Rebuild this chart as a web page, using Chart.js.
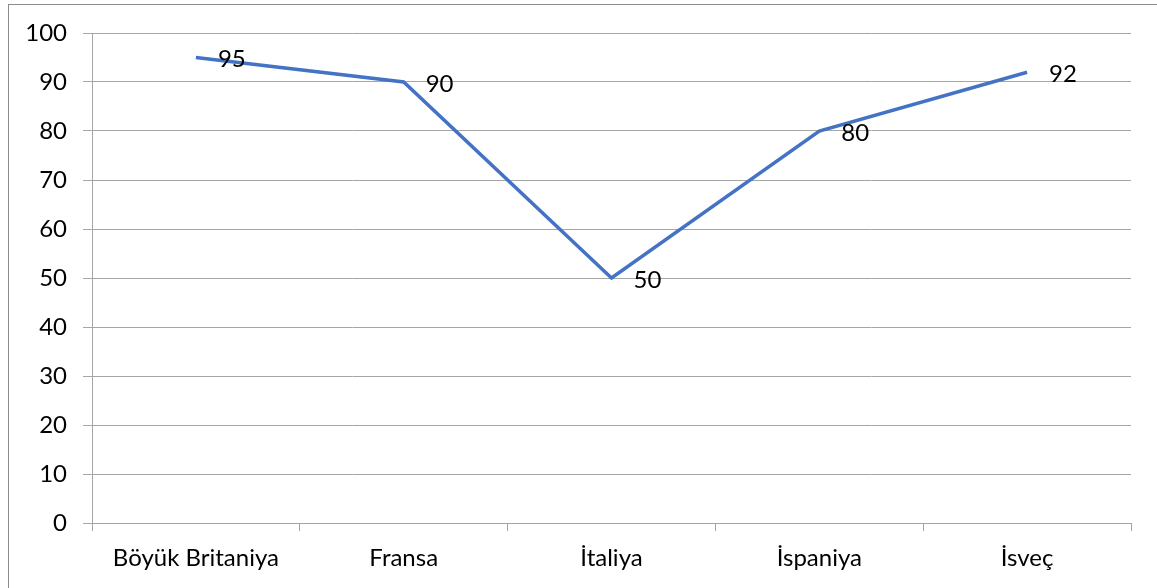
<!DOCTYPE html>
<html>
<head>
<meta charset="utf-8">
<script src="https://cdn.jsdelivr.net/npm/chart.js@4/dist/chart.umd.min.js"></script>
<style>
  html, body { margin: 0; padding: 0; background: #ffffff; }
  #wrap { position: relative; width: 1157px; height: 588px; overflow: hidden; }
  #frame { position: absolute; left: 8px; top: 4px; width: 1200px; height: 650px;
           border-left: 1px solid #8c8c8c; border-top: 1px solid #8c8c8c; box-sizing: border-box; }
  canvas { position: absolute; left: 0; top: 0; }
</style>
</head>
<body>
<div id="wrap">
  <div id="frame"></div>
  <canvas id="chart" width="1157" height="588"></canvas>
</div>
<script>
// Countries along the category axis
const categories = ['Böyük Britaniya', 'Fransa', 'İtaliya', 'İspaniya', 'İsveç'];
// Series values
const values = [95, 90, 50, 80, 92];
// Value axis range and step
const yMin = 0;
const yMax = 100;
const yStep = 10;

const FONT = 'Lato, "Open Sans", sans-serif';
const GRID = '#a6a6a6';

// Writes each value just to the right of its point
const valueLabels = {
  id: 'valueLabels',
  afterDatasetsDraw(chart) {
    const ctx = chart.ctx;
    const meta = chart.getDatasetMeta(0);
    ctx.save();
    ctx.font = '24px ' + FONT;
    ctx.fillStyle = '#000000';
    ctx.textAlign = 'left';
    ctx.textBaseline = 'middle';
    meta.data.forEach((pt, i) => {
      ctx.fillText(String(chart.data.datasets[0].data[i]), pt.x + 22, pt.y + 2);
    });
    ctx.restore();
  }
};

new Chart(document.getElementById('chart'), {
  type: 'line',
  data: {
    labels: categories,
    datasets: [{
      data: values,
      borderColor: '#4472c4',
      borderWidth: 3.5,
      pointRadius: 0,
      pointHoverRadius: 0,
      tension: 0,
      fill: false
    }]
  },
  options: {
    responsive: false,
    animation: false,
    devicePixelRatio: 1,
    layout: { padding: { top: 33, right: 26, left: 0, bottom: 0 } },
    plugins: {
      legend: { display: false },
      tooltip: { enabled: false }
    },
    scales: {
      x: {
        offset: true,
        afterFit(scale) { scale.height = 65; },
        grid: {
          offset: true,
          drawOnChartArea: false,
          drawTicks: true,
          tickLength: 8,
          color: GRID,
          lineWidth: 1
        },
        border: { display: true, color: GRID, width: 1 },
        ticks: {
          color: '#000000',
          font: { family: FONT, size: 24 },
          padding: 13,
          maxRotation: 0,
          autoSkip: false
        }
      },
      y: {
        min: yMin,
        max: yMax,
        afterFit(scale) { scale.width = 92; },
        grid: {
          color: GRID,
          lineWidth: 1,
          drawTicks: true,
          tickLength: 9
        },
        border: { display: true, color: GRID, width: 1 },
        ticks: {
          stepSize: yStep,
          color: '#000000',
          font: { family: FONT, size: 24 },
          padding: 16
        }
      }
    }
  },
  plugins: [valueLabels]
});
</script>
</body>
</html>
